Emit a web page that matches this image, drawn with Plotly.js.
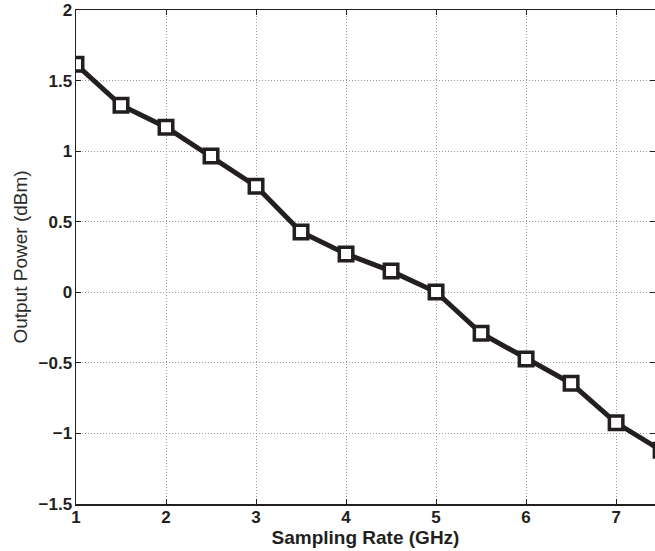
<!DOCTYPE html>
<html>
<head>
<meta charset="utf-8">
<script src="https://cdn.plot.ly/plotly-3.0.1.min.js"></script>
<style>html,body{margin:0;padding:0;background:#fff;}#chart{width:655px;height:551px;}</style>
</head>
<body>
<div id="chart"></div>
<script>
const samplingRate = [1, 1.5, 2, 2.5, 3, 3.5, 4, 4.5, 5, 5.5, 6, 6.5, 7, 7.5];
const outputPower = [1.615, 1.325, 1.17, 0.965, 0.752, 0.428, 0.272, 0.15, 0.002, -0.29, -0.472, -0.645, -0.925, -1.12];
const xTicks = [1, 2, 3, 4, 5, 6, 7];
const yTicks = [-1.5, -1, -0.5, 0, 0.5, 1, 1.5, 2];
const yTickText = ['\u22121.5', '\u22121', '\u22120.5', '0', '0.5', '1', '1.5', '2'];

const ink = '#231f20';
const fam = 'Liberation Sans, Arial, Helvetica, sans-serif';
const trace = {
  x: samplingRate, y: outputPower, type: 'scatter', mode: 'lines+markers',
  line: {color: ink, width: 5},
  marker: {symbol: 'square', size: 13.5, color: '#ffffff', line: {color: ink, width: 3.5}},
  cliponaxis: true, showlegend: false
};
const axisCommon = {
  showline: true, linecolor: ink, linewidth: 1.5, mirror: 'ticks',
  ticks: 'inside', ticklen: 5, tickcolor: ink, tickwidth: 1,
  showgrid: true, gridcolor: '#9a9a9a', griddash: '1px,2px', gridwidth: 1,
  zeroline: false,
  tickfont: {family: fam, size: 17, color: ink, weight: 'bold'}
};
const layout = {
  width: 655, height: 551,
  margin: {l: 76, r: 0, t: 10, b: 47},
  paper_bgcolor: '#ffffff', plot_bgcolor: '#ffffff',
  xaxis: Object.assign({}, axisCommon, {
    range: [1, 7.432], tickvals: xTicks, ticktext: xTicks.map(String),
    ticklabelstandoff: -3,
    title: {text: 'Sampling Rate (GHz)', standoff: 0,
      font: {family: fam, size: 19, color: ink, weight: 'bold'}}
  }),
  yaxis: Object.assign({}, axisCommon, {
    range: [-1.5, 2], tickvals: yTicks, ticktext: yTickText,
    ticklabelstandoff: -1,
    title: {text: 'Output Power (dBm)', standoff: 6,
      font: {family: fam, size: 19, color: '#2a2a2a'}}
  })
};
Plotly.newPlot('chart', [trace], layout, {displayModeBar: false, staticPlot: true});
</script>
</body>
</html>
